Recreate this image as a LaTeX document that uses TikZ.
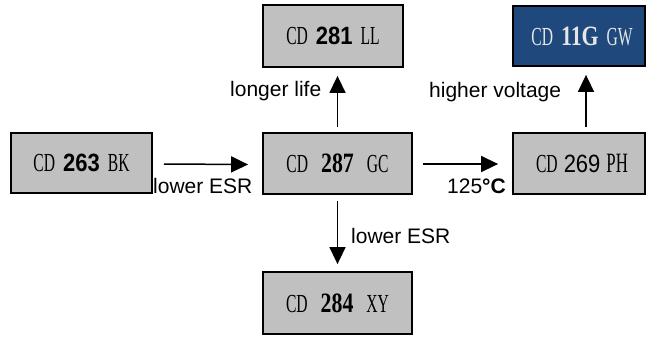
\documentclass[tikz,border=0pt]{standalone}
\usepackage{fontspec}
\setmainfont{Liberation Sans}
\newfontfamily\boxserif[FakeStretch=0.6]{Liberation Serif}
\newfontfamily\digserif[FakeStretch=0.78]{Liberation Serif}
\newfontfamily\digsans[FakeStretch=0.88]{Liberation Sans}
\usetikzlibrary{arrows.meta}
\definecolor{boxgray}{HTML}{C0C0C0}
\definecolor{boxblue}{HTML}{1F497D}
\definecolor{lighttext}{HTML}{E6E6E6}
\newcommand{\Lt}[1]{{\boxserif\fontsize{26}{26}\selectfont #1}}
\newcommand{\Ds}[1]{{\digserif\bfseries\fontsize{28}{28}\selectfont #1}}
\newcommand{\Dn}[1]{{\digsans\bfseries\fontsize{25}{25}\selectfont #1}}
\newcommand{\Dr}[1]{{\digsans\fontsize{25}{25}\selectfont #1}}
\tikzset{
  cbox/.style={draw=black, line width=1.8pt, fill=boxgray, rectangle, inner sep=0pt, align=center},
  arr/.style={line width=1.5pt, -{Triangle[length=17pt,width=16pt]}},
  lbl/.style={inner sep=0pt, anchor=base west, font=\fontsize{21}{24}\selectfont}
}
\begin{document}
\begin{tikzpicture}[x=1pt,y=-1pt]
\useasboundingbox (0,0) rectangle (647,338);
\node[cbox, minimum width=141pt, minimum height=60pt] (BK) at (81.5,163) {\Lt{CD}\hspace{8pt}\Dn{263}\hspace{8pt}\Lt{BK}};
\node[cbox, minimum width=140pt, minimum height=62pt] (LL) at (333,36) {\Lt{CD}\hspace{8pt}\Dn{281}\hspace{8pt}\Lt{LL}};
\node[cbox, fill=boxblue, text=lighttext, minimum width=132pt, minimum height=60pt] (GW) at (579,36) {\hspace{6pt}\Lt{CD}\hspace{8pt}\Ds{11G}\hspace{8pt}\Lt{GW}};
\node[cbox, minimum width=149pt, minimum height=61pt] (GC) at (337.5,163.5) {\Lt{CD}\hspace{13pt}\Ds{287}\hspace{13pt}\Lt{GC}};
\node[cbox, minimum width=132pt, minimum height=61pt] (PH) at (579,163.5) {\hspace{6pt}\Lt{CD}\hspace{6pt}\Dr{269}\hspace{6pt}{\boxserif\fontsize{28}{28}\selectfont PH}};
\node[cbox, minimum width=149pt, minimum height=62pt] (XY) at (337.5,303) {\Lt{CD}\hspace{13pt}\Ds{284}\hspace{13pt}\Lt{XY}};

\draw[arr] ([xshift=11pt,yshift=-1pt]BK.east) -- ([xshift=-14pt,yshift=-1pt]GC.west);
\draw[arr] ([xshift=10pt,yshift=-0.5pt]GC.east) -- ([xshift=-14pt,yshift=-0.5pt]PH.west);
\draw[arr] ([yshift=5pt]GC.north) -- ([yshift=-8pt]GC.north |- LL.south);
\draw[arr] ([xshift=7pt,yshift=5pt]PH.north) -- ([xshift=7pt,yshift=-8pt]GW.south);
\draw[arr] ([yshift=-6pt]GC.south) -- ([yshift=7pt]XY.north);

\node[lbl] (l1) at (153,193) {lower ESR};
\node[lbl] (l2) at (447,193) {125\textbf{°C}};
\node[lbl] (l3) at (230,96) {longer life};
\node[lbl] (l4) at (429,97) {higher voltage};
\node[lbl] (l5) at (351,243) {lower ESR};
\end{tikzpicture}
\end{document}
